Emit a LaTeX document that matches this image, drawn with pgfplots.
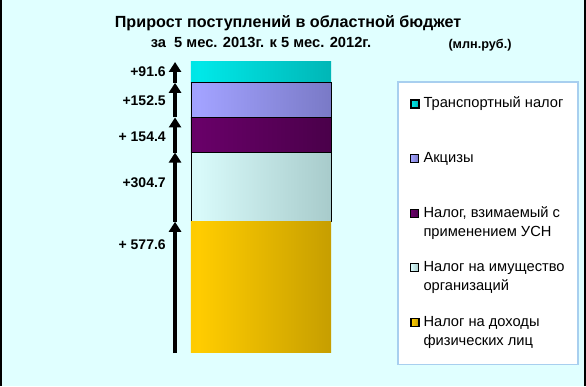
\documentclass[border=0pt]{standalone}
\usepackage{fontspec}
\setmainfont{Liberation Sans}
\usepackage{pgfplots}
\pgfplotsset{compat=1.18}
\usetikzlibrary{arrows.meta}
\definecolor{bg}{HTML}{E0FFFF}
\definecolor{legframe}{HTML}{A8CFEF}
\definecolor{cyL}{HTML}{00D2D2}\definecolor{cyM}{HTML}{00E8E8}\definecolor{cyR}{HTML}{009C9C}
\definecolor{laL}{HTML}{9494F0}\definecolor{laM}{HTML}{A2A2FF}\definecolor{laR}{HTML}{6464A8}
\definecolor{puL}{HTML}{5E005E}\definecolor{puM}{HTML}{680068}\definecolor{puR}{HTML}{3A003A}
\definecolor{lcL}{HTML}{C6EEEE}\definecolor{lcM}{HTML}{D8FAFA}\definecolor{lcR}{HTML}{8EB2B2}
\definecolor{yeL}{HTML}{F2C200}\definecolor{yeM}{HTML}{FFCC00}\definecolor{yeR}{HTML}{A88600}
\pgfdeclarehorizontalshading{shcy}{100bp}{color(0bp)=(cyL); color(28bp)=(cyM); color(100bp)=(cyR)}
\pgfdeclarehorizontalshading{shla}{100bp}{color(0bp)=(laL); color(28bp)=(laM); color(100bp)=(laR)}
\pgfdeclarehorizontalshading{shpu}{100bp}{color(0bp)=(puL); color(28bp)=(puM); color(100bp)=(puR)}
\pgfdeclarehorizontalshading{shlc}{100bp}{color(0bp)=(lcL); color(28bp)=(lcM); color(100bp)=(lcR)}
\pgfdeclarehorizontalshading{shye}{100bp}{color(0bp)=(yeL); color(28bp)=(yeM); color(100bp)=(yeR)}
\newcommand\two[2]{\vtop{\hbox{#1}\hbox{#2}}}
\pgfplotsset{
  common/.style={
    scale only axis, width=105pt, height=218.25pt,
    at={(143.25pt,24.75pt)}, anchor=south west,
    xmin=0, xmax=1, ymin=0, ymax=1280.8,
    hide axis, clip=false,
  }
}
\begin{document}
\begin{tikzpicture}
\useasboundingbox (0,0) rectangle (439.5pt,289.5pt);
\fill[bg] (0,0) rectangle (439.5pt,289.5pt);
\draw[line width=1.5pt] (0.75pt,0) -- (0.75pt,289.5pt);
\draw[line width=1.5pt] (438.75pt,0) -- (438.75pt,289.5pt);
\node[font=\bfseries\fontsize{12.1}{14}\selectfont] at (216pt,272.25pt) {Прирост поступлений в областной бюджет};
\node[font=\bfseries\fontsize{11}{13}\selectfont] at (195.75pt,258pt) {за\ \ 5 мес. 2013г. к 5 мес. 2012г.};
\node[font=\bfseries\fontsize{9.5}{11}\selectfont] at (360pt,255.75pt) {(млн.руб.)};
\begin{axis}[common,
  ybar stacked, bar width=105pt,
  reverse legend,
  legend cell align=left,
  legend image code/.code={\draw[#1] (0pt,0pt) rectangle (6pt,6pt);},
  legend style={at={(axis description cs:1.471,0.9347)}, anchor=north west,
    draw=legframe, line width=1.3pt, fill=white,
    inner xsep=9pt, inner ysep=11.5pt, row sep=16pt, column sep=2pt,
    font=\fontsize{11}{14.25}\selectfont,
    nodes={text height=8pt, text depth=17pt, inner xsep=1pt, inner ysep=0pt, anchor=base west},
    cells={anchor=base west}},
]
\addplot[draw=none, shading=shye, shade] coordinates {(0.5,577.6)};
\addlegendentry{\two{Налог на доходы}{физических лиц}}
\addplot[draw=black, line width=0.7pt, shading=shlc, shade] coordinates {(0.5,304.7)};
\addlegendentry{\two{Налог на имущество}{организаций}}
\addplot[draw=black, line width=0.7pt, shading=shpu, shade] coordinates {(0.5,154.4)};
\addlegendentry{\two{Налог, взимаемый с}{применением УСН}}
\addplot[draw=black, line width=0.7pt, shading=shla, shade] coordinates {(0.5,152.5)};
\addlegendentry{Акцизы}
\addplot[draw=none, shading=shcy, shade] coordinates {(0.5,91.6)};
\addlegendentry{Транспортный налог}
\end{axis}
\begin{axis}[common]
\addplot[black, line width=2.8pt, -{Triangle[length=7.5pt,width=9pt]},
  quiver={u=0, v=\thisrow{v}}] table {
x y v
-0.114 0 577.6
-0.114 577.6 304.7
-0.114 882.3 154.4
-0.114 1036.7 152.5
-0.114 1189.2 91.6
};
\tikzset{lab/.style={anchor=east, inner sep=0pt, font=\bfseries\fontsize{10.5}{12}\selectfont}}
\node[lab] at (axis cs:-0.1786,1236.8) {+91.6};
\node[lab] at (axis cs:-0.1786,1109.2) {+152.5};
\node[lab] at (axis cs:-0.1786,950.7) {+ 154.4};
\node[lab] at (axis cs:-0.1786,748.2) {+304.7};
\node[lab] at (axis cs:-0.1786,475.4) {+ 577.6};
\end{axis}
\end{tikzpicture}
\end{document}
